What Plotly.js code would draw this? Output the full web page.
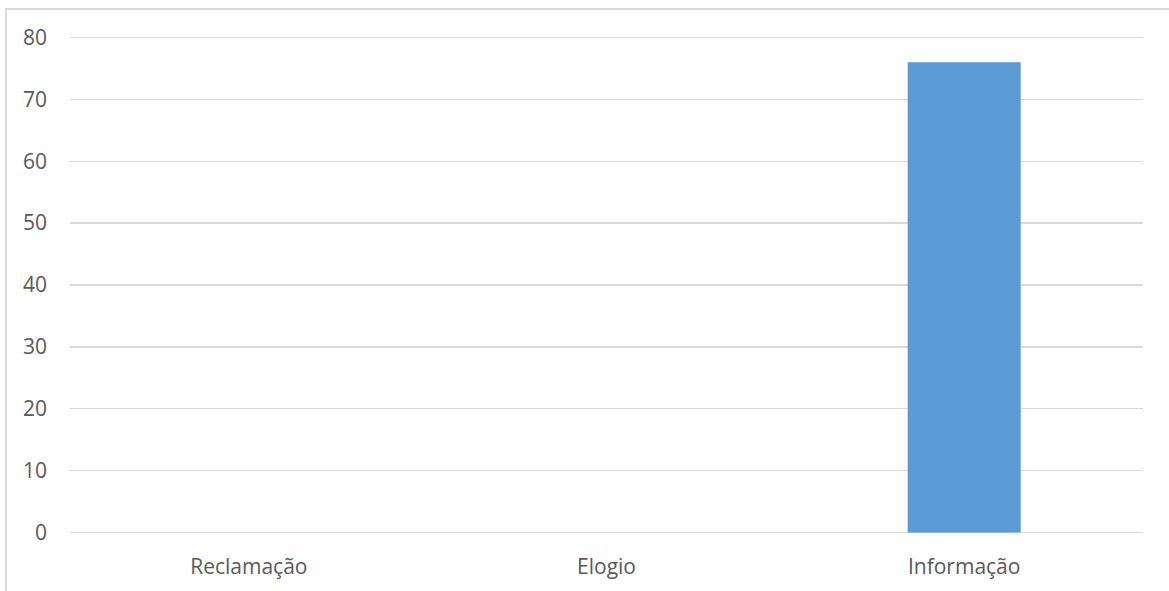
<!DOCTYPE html>
<html>
<head>
<meta charset="utf-8">
<script src="https://cdn.plot.ly/plotly-3.0.1.min.js"></script>
<style>
  html, body { margin: 0; padding: 0; background: #ffffff; }
  #frame { position: absolute; left: 5px; top: 8px; width: 1200px; height: 640px; border: 2px solid #d9d9d9; box-sizing: border-box; pointer-events: none; z-index: 2; }
  #chart { position: absolute; left: 0; top: 0; width: 1169px; height: 591px; }
</style>
</head>
<body>
<div id="chart"></div>
<div id="frame"></div>
<script>
const categories = ['Reclamação', 'Elogio', 'Informação'];
const values = [0, 0, 76];
const yTicks = [0, 10, 20, 30, 40, 50, 60, 70, 80];

const trace = {
  type: 'bar',
  x: categories,
  y: values,
  marker: { color: '#5b9bd5' },
  hoverinfo: 'x+y'
};

const layout = {
  width: 1169,
  height: 591,
  margin: { l: 70, r: 26, t: 36, b: 57 },
  paper_bgcolor: '#ffffff',
  plot_bgcolor: '#ffffff',
  showlegend: false,
  bargap: 0.684,
  font: { family: 'Open Sans, Liberation Sans, sans-serif', size: 21, color: '#595959' },
  xaxis: {
    type: 'category',
    showgrid: false,
    showline: false,
    zeroline: false,
    ticks: '',
    ticklabelstandoff: 18,
    tickfont: { size: 21, color: '#595959' }
  },
  yaxis: {
    range: [-0.25, 80.25],
    tickvals: yTicks,
    ticktext: yTicks.map(String),
    showgrid: true,
    gridcolor: '#d9d9d9',
    gridwidth: 1.5,
    zeroline: false,
    showline: false,
    ticks: '',
    ticklabelstandoff: 22,
    tickfont: { size: 21, color: '#595959' }
  }
};

Plotly.newPlot('chart', [trace], layout, { displayModeBar: false, staticPlot: true });
</script>
</body>
</html>
